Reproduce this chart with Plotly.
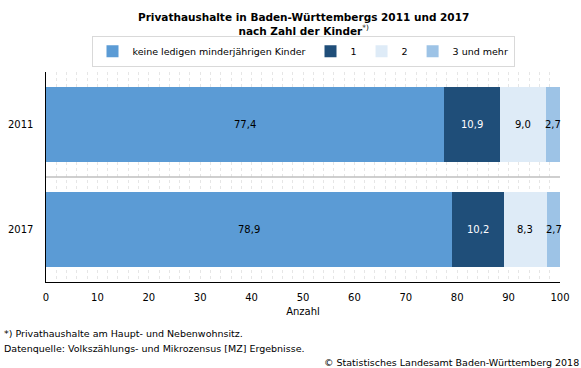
import plotly.graph_objects as go

years = ["2011", "2017"]
series_names = ["keine ledigen minderjährigen Kinder", "1", "2", "3 und mehr"]
values = {
    "keine ledigen minderjährigen Kinder": [77.4, 78.9],
    "1": [10.9, 10.2],
    "2": [9.0, 8.3],
    "3 und mehr": [2.7, 2.7],
}
colors = ["#5B9BD5", "#1F4E79", "#DEEBF7", "#9DC3E6"]
label_colors = ["#000000", "#FFFFFF", "#000000", "#000000"]
x_ticks = [0, 10, 20, 30, 40, 50, 60, 70, 80, 90, 100]

FONT = "DejaVu Sans"
fig = go.Figure()
cum = [0.0, 0.0]
annotations = []
for name, col, lc in zip(series_names, colors, label_colors):
    vals = values[name]
    fig.add_trace(go.Bar(
        y=years, x=vals, name=name, orientation="h",
        marker=dict(color=col, line=dict(width=0)), width=0.705,
    ))
    for i, v in enumerate(vals):
        annotations.append(dict(
            x=cum[i] + v / 2, y=i, xref="x", yref="y",
            text=f"{v:.1f}".replace(".", ","), showarrow=False,
            font=dict(family=FONT, size=10, color=lc),
        ))
        cum[i] += v

annotations += [
    dict(text="<b>Privathaushalte in Baden-Württembergs 2011 und 2017</b><br><b>nach Zahl der Kinder</b><sup>*)</sup>",
         x=0.5, y=1, xref="paper", yref="paper", xanchor="center", yanchor="top",
         showarrow=False, font=dict(family=FONT, size=10.5, color="#000"),
         align="center", yshift=63),
    dict(text="*) Privathaushalte am Haupt- und Nebenwohnsitz.", xref="paper", yref="paper",
         x=-0.086, y=0, xanchor="left", yanchor="middle", yshift=-51, showarrow=False,
         font=dict(family=FONT, size=9.5, color="#000")),
    dict(text="Datenquelle: Volkszählungs- und Mikrozensus [MZ] Ergebnisse.", xref="paper", yref="paper",
         x=-0.086, y=0, xanchor="left", yanchor="middle", yshift=-66, showarrow=False,
         font=dict(family=FONT, size=9.5, color="#000")),
    dict(text="© Statistisches Landesamt Baden-Württemberg 2018", xref="paper", yref="paper",
         x=1.04, y=0, xanchor="right", yanchor="middle", yshift=-80, showarrow=False,
         font=dict(family=FONT, size=9.5, color="#000")),
]

fig.add_shape(type="line", xref="x", yref="y", x0=0, x1=100, y0=0.5, y1=0.5,
              line=dict(color="#BFBFBF", width=1.5))

fig.update_layout(
    width=581, height=368,
    margin=dict(l=46, r=21, t=72, b=86),
    barmode="stack",
    plot_bgcolor="white", paper_bgcolor="white",
    font=dict(family=FONT, size=10, color="#000"),
    showlegend=True,
    legend=dict(orientation="h", x=0.5, xanchor="center", y=1.025, yanchor="bottom",
                bordercolor="#D9D9D9", borderwidth=1, font=dict(family=FONT, size=9.5),
                traceorder="normal", itemwidth=30),
    annotations=annotations,
    xaxis=dict(range=[0, 100], tickvals=x_ticks, ticks="", showline=True, linecolor="#000",
               linewidth=1, showgrid=True, gridcolor="#E6E6E6", griddash="dot", gridwidth=1,
               zeroline=False, automargin=False, ticklabelstandoff=6,
               title=dict(text="Anzahl", font=dict(family=FONT, size=10), standoff=5),
               minor=dict(dtick=2, showgrid=True, gridcolor="#E6E6E6", griddash="dot")),
    yaxis=dict(type="category", categoryorder="array", categoryarray=years,
               range=[1.5, -0.5], autorange=False, showline=True, linecolor="#000", linewidth=1,
               ticks="", showgrid=False, ticksuffix="   ", automargin=False),
)

fig.write_html("out.html", config={"displayModeBar": False},
               post_script="document.body.style.margin='0';document.body.style.padding='0';")
